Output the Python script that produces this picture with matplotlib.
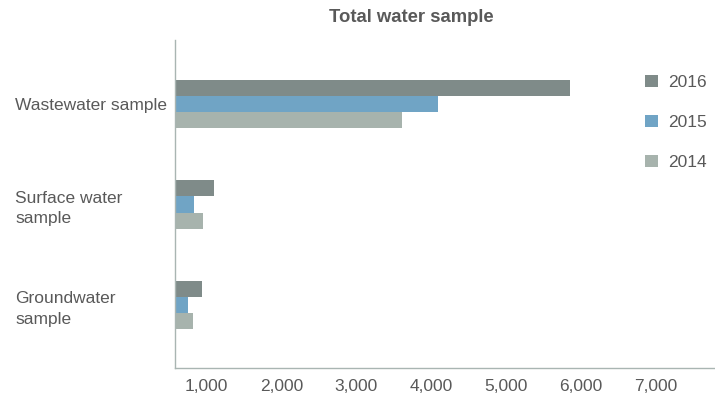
import numpy as np
import matplotlib.pyplot as plt
from matplotlib.transforms import blended_transform_factory

plt.rcParams['font.family'] = ['Liberation Sans', 'DejaVu Sans']

# data
categories = ['Wastewater sample', 'Surface water\nsample', 'Groundwater\nsample']
years = ['2016', '2015', '2014']
vals_2016 = [5860, 1095, 935]
vals_2015 = [4090, 830, 750]
vals_2014 = [3610, 950, 815]
colors = ['#7f8b89', '#70a4c5', '#a7b3ad']
ticks = [1000, 2000, 3000, 4000, 5000, 6000, 7000]

txt = '#595959'
fig = plt.figure(figsize=(7.15, 4.03), dpi=100)
ax = fig.add_axes([175/715, 35/403, 540/715, 328/403])

y = np.arange(len(categories))
h = 0.16
for i, (vals, c, lab) in enumerate(zip([vals_2016, vals_2015, vals_2014], colors, years)):
    ax.barh(y + (i - 1)*h, vals, height=h, color=c, label=lab)

ax.set_xlim(575, 7794)
ax.set_ylim(2.63, -0.64)
ax.set_xticks(ticks)
ax.set_xticklabels([f'{t:,}' for t in ticks], fontsize=12.5, color=txt)
ax.tick_params(axis='x', length=0, pad=8)
ax.set_yticks([])
for s in ['top', 'right']:
    ax.spines[s].set_visible(False)
for s in ['left', 'bottom']:
    ax.spines[s].set_color('#a9b5b2')
    ax.spines[s].set_linewidth(1.0)

# category labels, left aligned at the figure edge
tr = blended_transform_factory(fig.transFigure, ax.transData)
for yi, cat in zip(y, categories):
    ax.text(15/715, yi, cat, transform=tr, ha='left', va='center_baseline',
            fontsize=12.5, color=txt, linespacing=1.45)

fig.text(411/715, 1 - 17/403, 'Total water sample', ha='center', va='center',
         fontsize=13.3, fontweight='bold', color=txt)

leg = ax.legend(loc='upper left', bbox_to_anchor=(645/715, 1 - 75/403),
                bbox_transform=fig.transFigure, frameon=False, fontsize=12.5,
                handlelength=0.72, handleheight=0.72, handletextpad=0.6,
                labelspacing=1.42, borderpad=0, borderaxespad=0)
for t in leg.get_texts():
    t.set_color(txt)

plt.savefig('out.png', dpi=100)
